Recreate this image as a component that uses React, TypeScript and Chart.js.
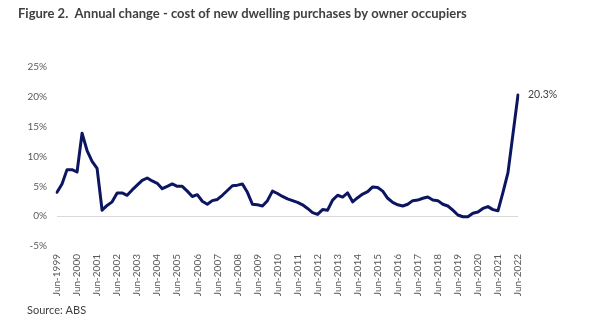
import React, { useEffect, useRef } from "react";
import { Chart, registerables } from "chart.js";

Chart.register(...registerables);

const TITLE = "Figure 2.  Annual change - cost of new dwelling purchases by owner occupiers";
const SOURCE = "Source: ABS";
const quarterMonths = ["Jun", "Sep", "Dec", "Mar"];
const startYear = 1999;

// Annual % change, quarterly Jun-1999 .. Jun-2022
const changeValues = [
  4.0, 5.4, 7.8, 7.8, 7.4, 13.9, 11.0, 9.2, 8.0, 1.0,
  1.8, 2.4, 3.9, 3.9, 3.5, 4.4, 5.2, 6.0, 6.4, 5.9,
  5.5, 4.6, 5.0, 5.4, 5.0, 5.0, 4.2, 3.3, 3.6, 2.5,
  2.0, 2.6, 2.8, 3.5, 4.3, 5.1, 5.2, 5.4, 4.0, 2.0,
  1.9, 1.7, 2.6, 4.2, 3.8, 3.3, 2.9, 2.6, 2.3, 1.9,
  1.3, 0.6, 0.3, 1.1, 1.0, 2.7, 3.5, 3.2, 3.9, 2.4,
  3.1, 3.7, 4.1, 4.9, 4.8, 4.2, 3.0, 2.3, 1.9, 1.7,
  2.0, 2.6, 2.7, 3.0, 3.2, 2.7, 2.6, 2.0, 1.7, 1.0,
  0.2, -0.1, -0.1, 0.5, 0.7, 1.3, 1.6, 1.1, 0.9, 4.0,
  7.3, 13.8, 20.3,
];

const categories = changeValues.map(
  (_, i) => `${quarterMonths[i % 4]}-${startYear + Math.floor((i + 1) / 4)}`
);

const yTicks = { min: -5, max: 25, step: 5 };
const lastLabel = "20.3%";

export default function App() {
  const ref = useRef<HTMLCanvasElement>(null);
  useEffect(() => {
    document.body.style.margin = "0";
    const textPlugin = {
      id: "texts",
      afterDraw(chart: any) {
        const ctx = chart.ctx;
        ctx.save();
        ctx.fillStyle = "#404040";
        ctx.textBaseline = "middle";
        ctx.textAlign = "left";
        ctx.font = "bold 13px Lato";
        ctx.fillText(TITLE, 18, 14);
        ctx.font = "11px Lato";
        ctx.fillStyle = "#404040";
        ctx.fillText(SOURCE, 27, 310);
        const meta = chart.getDatasetMeta(0);
        const pt = meta.data[meta.data.length - 1];
        ctx.font = "10.5px Lato";
        ctx.fillText(lastLabel, pt.x + 10, pt.y);
        ctx.restore();
      },
    };
    const chart = new Chart(ref.current!, {
      type: "line",
      data: {
        labels: categories,
        datasets: [
          {
            data: changeValues,
            borderColor: "#0b1560",
            borderWidth: 3,
            pointRadius: 0,
            tension: 0,
            borderJoinStyle: "round",
            borderCapStyle: "round",
          },
        ],
      },
      options: {
        responsive: false,
        animation: false,
        layout: { padding: { left: 0, top: 67, right: 81, bottom: 16 } },
        plugins: { legend: { display: false }, tooltip: { enabled: false }, title: { display: false } },
        scales: {
          x: {
            offset: false,
            grid: { display: false, drawTicks: false },
            border: { display: false },
            afterFit: (s: any) => {
              s.height = 60;
            },
            ticks: {
              autoSkip: false,
              maxRotation: 90,
              minRotation: 90,
              padding: 8,
              color: "#595959",
              font: { family: "Lato", size: 10 },
              callback: (_v: any, i: number) => (i % 4 === 0 ? categories[i] : ""),
            },
          },
          y: {
            min: yTicks.min,
            max: yTicks.max,
            afterFit: (s: any) => {
              s.width = 57;
            },
            grid: {
              drawTicks: false,
              color: (c: any) => (c.tick && c.tick.value === 0 ? "#d9d9d9" : "rgba(0,0,0,0)"),
              lineWidth: 1,
            },
            border: { display: false },
            ticks: {
              stepSize: yTicks.step,
              padding: 10,
              color: "#595959",
              font: { family: "Lato", size: 10 },
              callback: (v: any) => `${v}%`,
            },
          },
        },
      },
      plugins: [textPlugin],
    });
    return () => chart.destroy();
  }, []);
  return (
    <div style={{ position: "absolute", left: 0, top: 0, width: 599, height: 322, background: "#fff" }}>
      <canvas ref={ref} width={599} height={322} />
    </div>
  );
}
